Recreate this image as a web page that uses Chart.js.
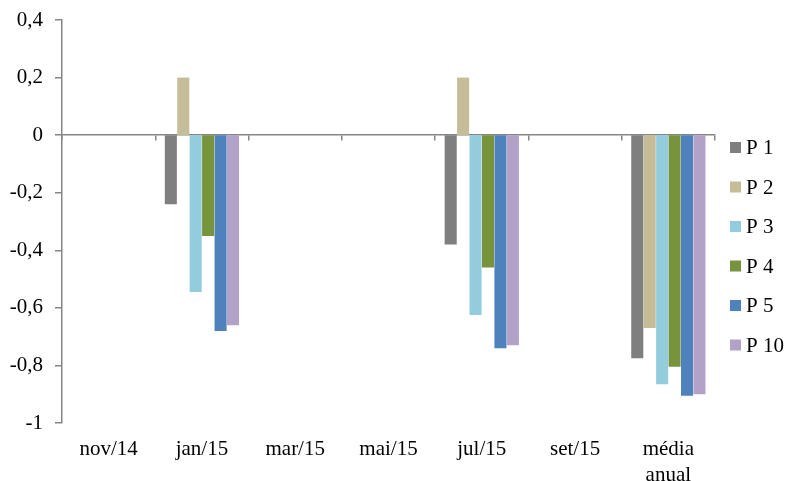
<!DOCTYPE html>
<html>
<head>
<meta charset="utf-8">
<script src="https://cdn.jsdelivr.net/npm/chart.js@4/dist/chart.umd.min.js"></script>
<style>
  html, body { margin: 0; padding: 0; background: #fff; }
  #wrap { width: 786px; height: 481px; }
</style>
</head>
<body>
<div id="wrap"><canvas id="chart"></canvas></div>
<script>
// categories (x axis)
var categories = ["nov/14", "jan/15", "mar/15", "mai/15", "jul/15", "set/15", ["média", "anual"]];
// series values, null = no bar
var p1 = [null, -0.24, null, null, -0.38, null, -0.775];
var p2 = [null, 0.2, null, null, 0.2, null, -0.67];
var p3 = [null, -0.545, null, null, -0.625, null, -0.865];
var p4 = [null, -0.35, null, null, -0.46, null, -0.805];
var p5 = [null, -0.68, null, null, -0.74, null, -0.905];
var p10 = [null, -0.66, null, null, -0.73, null, -0.9];
var seriesNames = ["P 1", "P 2", "P 3", "P 4", "P 5", "P 10"];
var seriesColors = ["#7f7f7f", "#c4bd97", "#93cddd", "#77933c", "#4f81bd", "#b3a2c7"];
// y axis ticks
var yMin = -1, yMax = 0.4, yStep = 0.2;

var allSeries = [p1, p2, p3, p4, p5, p10];
var datasets = [];
for (var i = 0; i < allSeries.length; i++) {
  datasets.push({
    label: seriesNames[i],
    data: allSeries[i],
    backgroundColor: seriesColors[i],
    borderWidth: 0,
    categoryPercentage: 0.8,
    barPercentage: 0.97,
    xAxisID: "x"
  });
}

var fontFamily = "'Liberation Serif', 'Times New Roman', serif";
var font = { family: fontFamily, size: 21, lineHeight: 1.25 };
var axisGray = "#868686";

// legend on the right, drawn by hand so the spacing matches Excel's
var sideLegend = {
  id: "sideLegend",
  afterDraw: function (chart) {
    var c = chart.ctx;
    var sets = chart.data.datasets;
    c.save();
    c.font = "21px " + fontFamily;
    c.textBaseline = "middle";
    c.textAlign = "left";
    for (var k = 0; k < sets.length; k++) {
      var cy = 147.5 + k * 39.5;
      c.fillStyle = sets[k].backgroundColor;
      c.fillRect(730, cy - 5.5, 11, 11);
      c.fillStyle = "#000";
      c.fillText(sets[k].label, 746, cy + 1);
    }
    c.restore();
  }
};

var ctx = document.getElementById("chart").getContext("2d");
var myChart = new Chart(ctx, {
  type: "bar",
  data: { labels: categories, datasets: datasets },
  options: {
    responsive: true,
    maintainAspectRatio: false,
    animation: false,
    layout: { padding: { left: 0, right: 71, top: 20, bottom: 0 } },
    scales: {
      x: {
        grid: { display: false },
        border: { display: false },
        ticks: { color: "#000", font: font, maxRotation: 0, autoSkip: false, padding: 5 },
        afterFit: function (scale) { scale.height = 58; }
      },
      x0: {
        // zero line with category boundary ticks
        type: "category",
        position: { y: 0 },
        offset: true,
        grid: { offset: true, drawOnChartArea: false, tickLength: 5, color: axisGray, lineWidth: 1.5 },
        border: { color: axisGray, width: 1.5 },
        ticks: { display: false },
        afterFit: function (scale) { scale.height = 0; }
      },
      y: {
        min: yMin,
        max: yMax,
        grid: { drawOnChartArea: false, tickLength: 7, color: axisGray, lineWidth: 1.5 },
        border: { color: axisGray, width: 1.5 },
        ticks: {
          stepSize: yStep,
          color: "#000",
          font: font,
          padding: 12,
          callback: function (v) {
            var r = Math.round(v * 10) / 10;
            return String(r).replace(".", ",");
          }
        },
        afterFit: function (scale) {
          scale.width = 62;
          // tick padding is also added above/below the axis; keep the plot top at 20px
          scale.paddingTop = 10;
          scale.paddingBottom = 10;
        }
      }
    },
    plugins: {
      tooltip: { enabled: false },
      legend: { display: false }
    }
  },
  plugins: [sideLegend]
});
</script>
</body>
</html>
